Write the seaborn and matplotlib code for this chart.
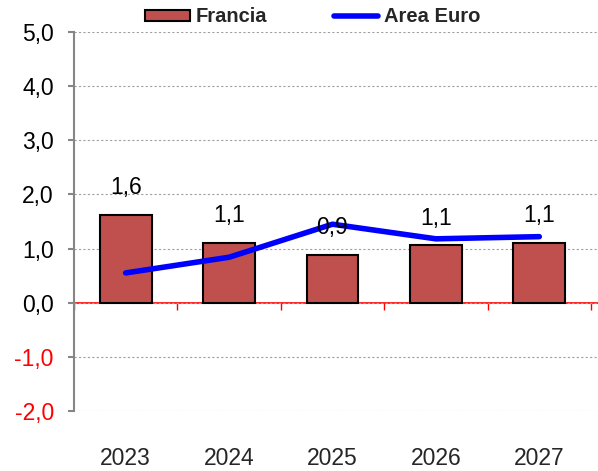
import numpy as np
import pandas as pd
import matplotlib
matplotlib.use("Agg")
import matplotlib.pyplot as plt
import seaborn as sns
from matplotlib.patches import Patch
from matplotlib.lines import Line2D
from matplotlib.ticker import FixedLocator

years = ["2023", "2024", "2025", "2026", "2027"]
francia = [1.62, 1.11, 0.88, 1.06, 1.11]
francia_labels = ["1,6", "1,1", "0,9", "1,1", "1,1"]
area_euro = [0.55, 0.84, 1.45, 1.18, 1.22]
yticks = [-2, -1, 0, 1, 2, 3, 4, 5]

sns.set_theme(style="white")
plt.rcParams['font.family'] = ['Liberation Sans', 'DejaVu Sans']

fig = plt.figure(figsize=(5.98, 4.71), dpi=100)
ax = fig.add_axes([74/598, 1-411/471, 1-74/598, (411-32)/471])

df = pd.DataFrame({"year": years, "francia": francia, "euro": area_euro})
sns.barplot(data=df, x="year", y="francia", color="#C0504D", saturation=1,
            edgecolor="black", linewidth=1.5, width=0.5, ax=ax, zorder=3)
sns.lineplot(x=np.arange(len(years)), y=area_euro, color="#0000FF",
             linewidth=4, ax=ax, zorder=4, solid_capstyle="round")

for i, (v, lab) in enumerate(zip(francia, francia_labels)):
    ax.annotate(lab, (i, v), xytext=(0, 19.5), textcoords="offset points",
                ha="center", va="center", fontsize=16.5, color="black", zorder=5)

ax.set_xlim(-0.5, 4.5 + 7/103.3)
ax.set_ylim(-2, 5)
ax.set_yticks(yticks)
ax.set_yticklabels([f"{t:.1f}".replace(".", ",") for t in yticks], fontsize=16.5)
for t, lab in zip(yticks, ax.get_yticklabels()):
    lab.set_color("red" if t < 0 else "black")
ax.yaxis.grid(True, linestyle=(0, (2, 2)), color="#A0A0A0", linewidth=0.8, zorder=0)
ax.xaxis.grid(False)
ax.tick_params(axis="y", direction="out", length=4.5, color="#868686", width=1.5, pad=10, left=True)
ax.tick_params(axis="x", length=0, pad=26, labelsize=16.5)
ax.set_xlabel("")
ax.set_ylabel("")

for s in ["top", "right", "bottom"]:
    ax.spines[s].set_visible(False)
ax.spines["left"].set_color("#868686")
ax.spines["left"].set_linewidth(1.5)

# zero axis in red with category boundary ticks
sec = ax.secondary_xaxis(2/7)
sec.xaxis.set_major_locator(FixedLocator([-0.5, 0.5, 1.5, 2.5, 3.5, 4.5]))
sec.tick_params(axis="x", direction="out", length=5, color="red", width=1, labelbottom=False)
sec.spines["bottom"].set_color("red")
sec.spines["bottom"].set_linewidth(1.2)
sec.set_xticklabels([])

handles = [Patch(facecolor="#C0504D", edgecolor="black", linewidth=1.5),
           Line2D([0], [0], color="#0000FF", linewidth=4)]
fig.legend(handles, ["Francia", "Area Euro"], loc="center", bbox_to_anchor=(0.523, 1-17/471),
           ncol=2, frameon=False, prop={"weight": "bold", "size": 14.5},
           handlelength=2.2, handleheight=0.5, handletextpad=0.3, columnspacing=3.3)

fig.savefig("out.png", dpi=100)
